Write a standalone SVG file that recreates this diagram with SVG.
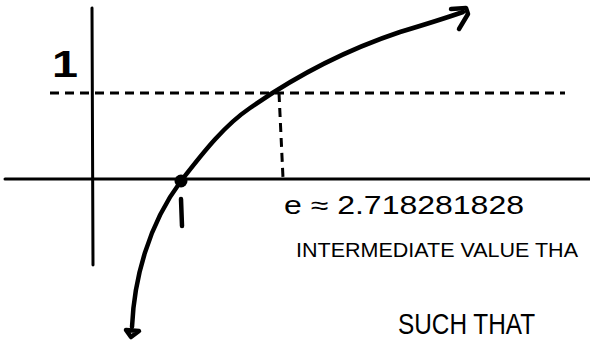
<svg xmlns="http://www.w3.org/2000/svg" width="590" height="345" viewBox="0 0 590 345">
<style>
.ax{stroke:#000;stroke-width:3;fill:none;stroke-linecap:round}
.dash{stroke:#000;stroke-width:3;fill:none;stroke-dasharray:9 6}
.curve{stroke:#000;stroke-width:4.5;fill:none;stroke-linecap:round;stroke-linejoin:round}
.t{font-family:"Liberation Sans",Arial,sans-serif;fill:#000}
</style>
<rect width="590" height="345" fill="#fff"/>
<g id="connectors">
<path class="ax" d="M92,8 L93,265"/>
<path class="ax" d="M5,179 L590,179"/>
<path class="dash" d="M50,93 L565,93"/>
<path class="dash" d="M279,93 L283,178"/>
<path class="curve" d="M132,327 C134,280 148,225 181,181 C205,150 225,125 250,108 C290,80 340,52 400,32 C420,26 440,20 463,12"/>
<path class="curve" d="M451,9 L466,8 L468,14 L459,29" stroke-width="5"/>
<path class="curve" d="M126,330 L131,337 L139,331 Z" stroke-width="3"/>
</g>
<g id="dot"><circle cx="181" cy="181" r="6.5" fill="#000"/></g>
<g id="label-y1"><text class="t" x="52" y="77" font-size="36" font-weight="bold" textLength="26" lengthAdjust="spacingAndGlyphs">1</text></g>
<g id="label-x1"><path class="curve" d="M181,199 L182,226" stroke-width="4"/></g>
<g id="label-e"><text class="t" x="284" y="214" font-size="25" textLength="240" lengthAdjust="spacingAndGlyphs">e ≈ 2.718281828</text></g>
<g id="label-ivt"><text class="t" x="296" y="257" font-size="21" textLength="282" lengthAdjust="spacingAndGlyphs">INTERMEDIATE VALUE THA</text></g>
<g id="label-such"><text class="t" x="398" y="334" font-size="30" textLength="137" lengthAdjust="spacingAndGlyphs">SUCH THAT</text></g>
</svg>
